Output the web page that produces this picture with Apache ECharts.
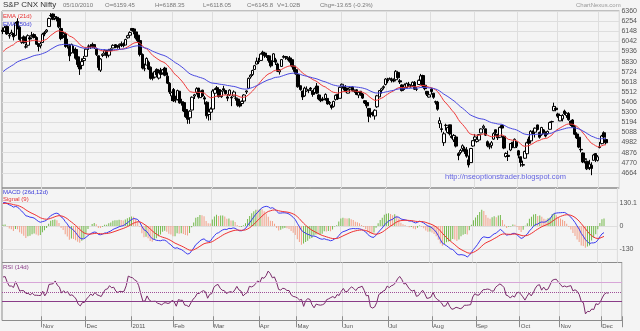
<!DOCTYPE html>
<html><head><meta charset="utf-8">
<script src="https://cdn.jsdelivr.net/npm/echarts@6.0.0/dist/echarts.min.js"></script>
<style>html,body{margin:0;padding:0;background:#f4f4f4}#c{width:640px;height:331px}</style>
</head><body><div id="c"></div><script>
// ---- data (S&P CNX Nifty daily, 05/10/2010 .. early Dec 2011) ----
const monthNames = ['Oct','Nov','Dec','2011','Feb','Mar','Apr','May','Jun','Jul','Aug','Sep','Oct','Nov','Dec'];
const monthDays  = [19,21,22,20,19,22,18,22,22,21,21,21,19,20,4];
const emptySlots = 6;
const opens = [
6159,6150,6199,6098,6119,6124,6105,6250,6191,6032,6089,5985,6001,6080,6095,6113,6082,6016,5995,
6030,6133,6143,6197,6313,6328,6285,6294,6280,6177,6102,6123,6011,5988,5922,5962,5957,5880,5802,5790,5840,
5885,5990,5987,6011,6008,5961,5891,5739,5894,5918,5943,5897,5960,5972,6007,5997,5997,6017,6011,6003,6079,6106,
6177,6172,6141,6107,6050,5904,5756,5793,5822,5771,5684,5667,5748,5657,5741,5711,5762,5677,5603,5470,
5537,5426,5432,5519,5409,5400,5328,5253,5241,5322,5469,5508,5552,5452,5530,5450,5404,5275,5299,
5333,5498,5556,5536,5462,5545,5527,5459,5480,5455,5469,5447,5437,5388,5390,5416,5512,5550,5668,5693,5747,5803,
5835,5842,5928,5919,5890,5890,5838,5834,5848,5805,5722,5779,5875,5882,5859,5868,5850,5784,
5745,5693,5577,5521,5470,5522,5533,5552,5525,5506,5573,5480,5437,5437,5443,5444,5402,5374,5360,5433,5486,5445,
5572,5567,5554,5499,5540,5561,5517,5534,5478,5519,5490,5420,5401,5339,5279,5296,5260,5356,5460,5528,5556,5590,
5643,5652,5646,5631,5640,5716,5629,5585,5560,5557,5595,5566,5577,5613,5540,5590,5636,5684,5582,5518,5458,
5541,5498,5410,5406,5180,5126,4980,5162,5087,5167,5047,5009,5040,4865,4876,4920,4915,4905,4800,4771,4945,
5011,4993,5008,5082,5136,5125,4990,4934,4951,5017,5115,5068,5037,5160,5047,4835,4848,4903,4985,4927,4985,
4895,4833,4744,4817,4864,5018,4999,5091,5090,5166,5088,5064,5114,5086,5074,5120,5198,5315,5342,
5281,5208,5229,5311,5264,5285,5207,5218,5148,5071,5037,4910,4872,4802,4785,4719,4744,4795,4866,4794,
4930,4970,5084,5013];
const highs = [
6188,6203,6208,6129,6164,6130,6245,6284,6207,6084,6104,6017,6115,6089,6141,6126,6095,6022,6036,
6131,6149,6171,6291,6338,6335,6326,6305,6290,6225,6139,6135,6069,6015,6018,5996,5978,5884,5817,5864,5888,
5968,6010,6013,6029,6012,5966,5892,5867,5917,5959,5949,5963,5968,6011,6013,6001,6019,6040,6030,6069,6110,6147,
6178,6181,6141,6116,6066,5915,5808,5874,5840,5779,5715,5734,5759,5723,5764,5752,5775,5716,5614,5515,
5553,5472,5536,5522,5440,5410,5342,5277,5320,5465,5492,5561,5554,5525,5535,5470,5414,5318,5349,
5540,5550,5574,5536,5530,5576,5533,5488,5539,5470,5528,5468,5442,5397,5422,5488,5528,5663,5697,5744,5795,5872,
5869,5917,5944,5928,5911,5896,5843,5919,5869,5818,5752,5857,5897,5889,5878,5888,5851,5796,
5748,5694,5579,5523,5567,5570,5535,5563,5527,5557,5605,5489,5449,5460,5497,5445,5416,5380,5420,5485,5487,5568,
5600,5568,5584,5548,5569,5571,5538,5538,5516,5521,5500,5426,5406,5339,5285,5306,5330,5481,5531,5556,5580,5657,
5660,5664,5662,5653,5740,5716,5647,5592,5601,5611,5617,5592,5621,5626,5564,5642,5701,5692,5593,5522,5499,
5551,5502,5421,5418,5246,5183,5094,5179,5147,5168,5092,5070,5040,4880,4915,4962,4938,4934,4845,4925,5008,
5070,5030,5071,5130,5169,5127,5003,4973,4997,5089,5118,5068,5148,5169,5048,4879,4896,4976,4985,5025,4994,
4904,4833,4792,4896,4990,5043,5111,5108,5140,5169,5096,5146,5122,5099,5107,5201,5210,5399,5360,
5294,5282,5278,5326,5298,5300,5210,5227,5165,5090,5055,4954,4878,4822,4793,4800,4775,4863,4870,4850,
4988,5062,5099,5036];
const lows = [
6118,6140,6110,6070,6111,6052,6098,6167,6050,6016,6017,5967,5995,6053,6092,6072,6004,5937,5968,
6025,6096,6131,6195,6295,6264,6264,6251,6180,6054,6078,5975,5967,5835,5912,5913,5850,5771,5690,5774,5820,
5880,5953,5962,5971,5962,5888,5738,5721,5877,5906,5865,5874,5920,5972,5970,5965,5962,5982,5978,6002,6070,6105,
6147,6116,6062,6031,5884,5748,5729,5792,5741,5640,5633,5653,5683,5642,5683,5700,5676,5594,5491,5416,
5406,5400,5422,5389,5368,5301,5240,5178,5178,5320,5438,5485,5441,5449,5460,5380,5232,5212,5215,
5333,5466,5525,5452,5450,5516,5483,5415,5470,5363,5465,5420,5357,5349,5370,5410,5490,5545,5650,5679,5745,5802,
5804,5840,5884,5869,5867,5819,5768,5826,5794,5720,5694,5778,5861,5849,5843,5818,5770,5723,
5692,5556,5525,5427,5460,5513,5499,5521,5461,5497,5489,5425,5405,5414,5420,5378,5373,5328,5348,5421,5427,5445,
5568,5528,5508,5497,5530,5516,5502,5478,5447,5471,5438,5385,5341,5195,5242,5255,5221,5345,5460,5495,5537,5580,
5603,5640,5611,5613,5636,5648,5595,5517,5533,5548,5565,5558,5565,5533,5521,5585,5631,5560,5529,5469,5453,
5483,5440,5380,5315,5133,5088,4946,5107,5077,5055,5022,4987,4930,4796,4857,4887,4862,4822,4720,4770,4937,
4995,4980,4998,5080,5121,5050,4932,4911,4920,5010,5052,5008,5033,5105,4912,4825,4788,4891,4922,4925,4924,
4816,4728,4728,4811,4848,4952,4987,5052,5034,5108,5022,5052,5073,5035,5063,5120,5191,5311,5310,
5240,5206,5203,5270,5240,5210,5155,5140,5059,5018,4922,4879,4766,4763,4693,4693,4639,4795,4778,4783,
4920,4963,5024,4962];
const closes = [
6146,6186,6120,6103,6135,6090,6233,6177,6062,6075,6027,5982,6101,6066,6105,6082,6012,5988,6017,
6117,6119,6160,6281,6312,6273,6301,6275,6194,6071,6121,5988,5998,5890,6010,5934,5865,5799,5752,5830,5862,
5960,5993,5992,5992,5976,5903,5767,5857,5907,5944,5892,5948,5947,6000,5984,5980,6011,5998,5996,6061,6101,6134,
6157,6146,6079,6048,5904,5762,5754,5863,5751,5654,5654,5724,5691,5711,5696,5743,5687,5604,5512,5505,
5417,5432,5526,5396,5396,5312,5253,5225,5310,5456,5482,5546,5458,5518,5469,5437,5262,5303,5333,
5522,5536,5538,5463,5520,5531,5494,5446,5531,5449,5511,5446,5373,5364,5413,5480,5522,5654,5687,5737,5787,5833,
5826,5908,5910,5891,5885,5842,5785,5911,5824,5729,5740,5851,5884,5875,5868,5833,5785,5749,
5701,5566,5537,5459,5552,5541,5528,5541,5486,5545,5499,5438,5420,5428,5486,5386,5394,5349,5412,5476,5438,5560,
5592,5550,5516,5532,5556,5526,5521,5485,5508,5482,5447,5396,5366,5257,5275,5278,5320,5471,5526,5545,5567,5647,
5627,5651,5632,5626,5728,5660,5616,5526,5585,5599,5581,5567,5613,5541,5541,5633,5680,5574,5546,5488,5482,
5516,5456,5404,5331,5211,5118,5073,5161,5138,5072,5035,5056,4944,4845,4899,4948,4888,4839,4747,4919,5001,
5040,5017,5064,5124,5153,5059,4947,4940,4980,5075,5084,5032,5140,5133,4923,4867,4835,4971,4945,5015,4943,
4849,4772,4751,4888,4979,4974,5099,5077,5132,5118,5037,5139,5091,5049,5098,5191,5202,5360,5326,
5258,5265,5266,5284,5289,5221,5168,5148,5069,5030,4934,4905,4778,4812,4706,4756,4710,4851,4805,4832,
4936,5050,5039,4979];
// closes of the 14 sessions before the first bar (needed for the 14d RSI window)
const priorCloses = [5795,5809,5885,5980,6010,5991,5959,6018,6035,6029,5991,6030,6144,6159];
const ema21Start = 5912, ema50Start = 5707, ema12Start = 6030, ema26Start = 5900, signalStart = 125;
const priceTicks = [4664,4770,4876,4982,5088,5194,5300,5406,5512,5618,5724,5830,5936,6042,6148,6254,6360];
const macdTicks = [-130, 0, 130.1];
const rsiLevels = [70, 50, 30];
const headerTexts = ['05/10/2010','O=6159.45','H=6188.35','L=6118.05','C=6145.8','V=1.02B','Chg=-13.65 (-0.2%)'];

// ---- derived ----
const labelAt = [];
monthDays.forEach((n, m) => { for (let d = 0; d < n; d++) labelAt.push(d === 0 && m > 0 ? monthNames[m] : ''); });
for (let k = 0; k < emptySlots; k++) labelAt.push('');
const cats = labelAt.map((_, i) => 'd' + i);
const isMonth = (i) => labelAt[i] !== '';

function ema(src, n, start) { const a = 2 / (n + 1); let e = start; return src.map(v => (e = e + a * (v - e))); }
const ema21 = ema(closes, 21, ema21Start);
const ema50 = ema(closes, 50, ema50Start);
const e12 = ema(closes, 12, ema12Start), e26 = ema(closes, 26, ema26Start);
const macd = e12.map((v, i) => v - e26[i]);
const signal = ema(macd, 9, signalStart);
const hist = macd.map((v, i) => v - signal[i]);
const all = priorCloses.concat(closes);
const rsi = closes.map((_, i) => {
  const end = i + priorCloses.length; let g = 0, l = 0;
  for (let k = end - 13; k <= end; k++) { const d = all[k] - all[k - 1]; if (d > 0) g += d; else l -= d; }
  return 100 * g / (g + l);
});
const candles = opens.map((o, i) => [o, closes[i], lows[i], highs[i]]);
const histData = hist.map((v, i) => ({ value: v, itemStyle: { color: (i > 0 && v < hist[i - 1]) ? '#f2a088' : '#74b94c' } }));

const FONT = 'Liberation Sans, Arial, sans-serif';
const GRID_LINE = '#dedede';
const xBase = (gi, showLabels) => ({
  type: 'category', gridIndex: gi, data: cats, boundaryGap: true,
  axisLine: { show: false },
  axisTick: { show: showLabels, interval: isMonth, length: 11, lineStyle: { color: '#8c8c8c' } },
  axisLabel: { show: showLabels, interval: isMonth, formatter: (v, i) => labelAt[i], align: 'left',
               margin: 3, fontSize: 6, color: '#555', fontFamily: FONT },
  splitLine: { show: true, interval: isMonth, lineStyle: { color: GRID_LINE, width: 1 } }
});
const plain = (v) => String(v);

const chart = echarts.init(document.getElementById('c'), null, { renderer: 'canvas' });
const gridCommon = { left: 2, width: 620, show: true, borderColor: '#8c8c8c', borderWidth: 1, backgroundColor: 'transparent' };
const hdrX = [63, 105, 155, 203, 247, 277, 320];
chart.setOption({
  animation: false,
  backgroundColor: '#f4f4f4',
  textStyle: { fontFamily: FONT },
  grid: [
    Object.assign({ top: 11, height: 177 }, gridCommon),
    Object.assign({ top: 188, height: 74.5 }, gridCommon),
    Object.assign({ top: 262.5, height: 58 }, gridCommon)
  ],
  xAxis: [xBase(0, false), xBase(1, false), xBase(2, true)],
  yAxis: [
    { type: 'value', gridIndex: 0, position: 'right', min: 4505, max: 6360,
      axisLine: { show: false }, axisTick: { show: false, customValues: priceTicks },
      axisLabel: { customValues: priceTicks, formatter: plain, fontSize: 7, color: '#555', margin: 2, fontFamily: FONT },
      splitLine: { show: true, lineStyle: { color: GRID_LINE } } },
    { type: 'value', gridIndex: 1, position: 'right', min: -204, max: 212.3,
      axisLine: { show: false }, axisTick: { show: false, customValues: macdTicks },
      axisLabel: { customValues: macdTicks, formatter: plain, fontSize: 7, color: '#555', margin: 2, fontFamily: FONT },
      splitLine: { show: true, lineStyle: { color: GRID_LINE } } },
    { type: 'value', gridIndex: 1, position: 'right', min: -102, max: 106.15, show: false, splitLine: { show: false } },
    { type: 'value', gridIndex: 2, position: 'right', min: -8.8, max: 110.8, show: false, splitLine: { show: false } }
  ],
  series: [
    { type: 'candlestick', xAxisIndex: 0, yAxisIndex: 0, data: candles, barWidth: 3,
      itemStyle: { color: '#ffffff', color0: '#000000', borderColor: '#000000', borderColor0: '#000000', borderWidth: 1 } },
    { type: 'line', xAxisIndex: 0, yAxisIndex: 0, data: ema21, showSymbol: false, lineStyle: { color: '#f03a3a', width: 1 } },
    { type: 'line', xAxisIndex: 0, yAxisIndex: 0, data: ema50, showSymbol: false, lineStyle: { color: '#4848e0', width: 1 } },
    { type: 'bar', xAxisIndex: 1, yAxisIndex: 2, data: histData, barWidth: 1 },
    { type: 'line', xAxisIndex: 1, yAxisIndex: 1, data: macd, showSymbol: false, lineStyle: { color: '#3a3af0', width: 1 } },
    { type: 'line', xAxisIndex: 1, yAxisIndex: 1, data: signal, showSymbol: false, lineStyle: { color: '#f03030', width: 1 } },
    { type: 'line', xAxisIndex: 2, yAxisIndex: 3, data: rsi, showSymbol: false, lineStyle: { color: '#7a2a6a', width: 1 },
      markLine: { silent: true, symbol: 'none', label: { show: false },
        data: [
          { yAxis: rsiLevels[0], lineStyle: { color: '#d8a6d8', type: 'solid', width: 1.2 } },
          { yAxis: rsiLevels[1], lineStyle: { color: '#a05098', type: 'dotted', width: 1 } },
          { yAxis: rsiLevels[2], lineStyle: { color: '#8a3c88', type: 'solid', width: 1 } }
        ] } }
  ],
  graphic: { elements: [
    { type: 'text', z: 100, left: 3, top: 1, style: { text: 'S&P CNX Nifty', fontSize: 8, fill: '#333', fontFamily: FONT } },
    ...headerTexts.map((t, k) => ({ type: 'text', z: 100, left: hdrX[k], top: 2.5, style: { text: t, fontSize: 6, fill: '#777', fontFamily: FONT } })),
    { type: 'text', z: 100, left: 576, top: 2.5, style: { text: 'ChartNexus.com', fontSize: 6, fill: '#999', fontFamily: FONT } },
    { type: 'text', z: 100, left: 3, top: 13, style: { text: 'EMA (21d)', fontSize: 6, fill: '#e83030', fontFamily: FONT } },
    { type: 'text', z: 100, left: 3, top: 21, style: { text: 'EMA (50d)', fontSize: 6, fill: '#3838d8', fontFamily: FONT } },
    { type: 'text', z: 100, left: 3, top: 189, style: { text: 'MACD (26d,12d)', fontSize: 6, fill: '#3838d8', fontFamily: FONT } },
    { type: 'text', z: 100, left: 3, top: 196.5, style: { text: 'Signal (9)', fontSize: 6, fill: '#e83030', fontFamily: FONT } },
    { type: 'text', z: 100, left: 3, top: 264, style: { text: 'RSI (14d)', fontSize: 6, fill: '#8a3c88', fontFamily: FONT } },
    { type: 'text', z: 100, left: 445, top: 173, style: { text: 'http://nseoptionstrader.blogspot.com', fontSize: 7.5, fill: '#6464e0', fontFamily: FONT } }
  ] }
});
</script></body></html>
